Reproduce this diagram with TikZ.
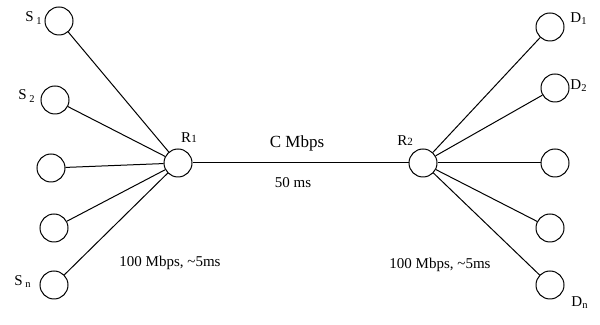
\documentclass[tikz,border=0pt]{standalone}
\usepackage{fontspec}
\setmainfont{Liberation Serif}
\begin{document}
\begin{tikzpicture}[x=0.5pt,y=-0.5pt,line width=0.5pt,
  host/.style={circle,draw,minimum size=14pt,inner sep=0pt},
  tag/.style={font=\fontsize{7.5}{8}\selectfont,inner sep=0pt},
  linktxt/.style={font=\fontsize{7.5}{9}\selectfont,inner sep=0pt}]
\useasboundingbox (0,0) rectangle (600,325);
% routers
\node[host] (r1) at (178,163) {};
\node[host] (r2) at (423,163) {};
% sources and destinations
\foreach \i/\x/\y in {1/59/21,2/55/100,3/51/168,4/54/228,5/54/285}
  \node[host] (s\i) at (\x,\y) {};
\foreach \i/\x/\y in {1/550/27,2/555/88,3/555/163,4/550/228,5/550/285}
  \node[host] (d\i) at (\x,\y) {};
\foreach \i in {1,...,5} {
  \draw (s\i) -- (r1);
  \draw (r2) -- (d\i);
}
\draw (r1) -- (r2);
% labels
\node[tag] (ts1) at (34,18) {S\,\textsubscript{1}};
\node[tag] (ts2) at (27,96) {S\,\textsubscript{2}};
\node[tag] (tsn) at (23,282) {S\,\textsubscript{n}};
\node[tag] (td1) at (579,19) {D\textsubscript{1}};
\node[tag] (td2) at (579,86) {D\textsubscript{2}};
\node[tag] (tdn) at (580,303) {D\textsubscript{n}};
\node[tag] (tr1) at (189,138) {R{\fontsize{5.5}{6}\selectfont 1}};
\node[tag] (tr2) at (405,141) {R{\fontsize{5.5}{6}\selectfont 2}};
\node[linktxt,font=\fontsize{8.5}{10}\selectfont] (bw) at (297,143) {C Mbps};
\node[linktxt] (dl) at (293,183) {50 ms};
\node[linktxt] (accl) at (170,263) {100 Mbps, \textasciitilde5ms};
\node[linktxt] (accr) at (440,265) {100 Mbps, \textasciitilde5ms};
\end{tikzpicture}
\end{document}
